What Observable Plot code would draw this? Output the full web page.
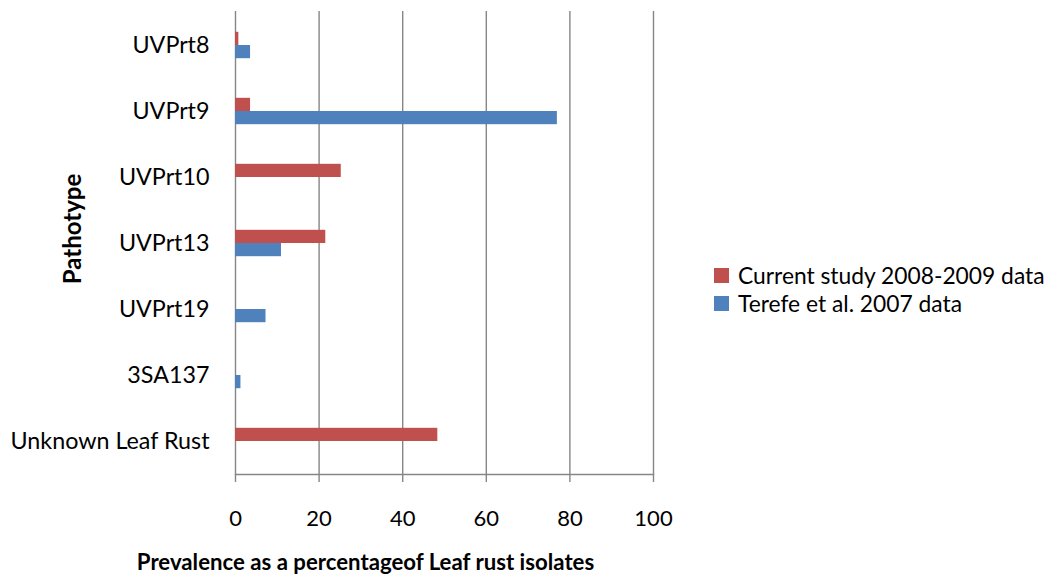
<!DOCTYPE html>
<html>
<head>
<meta charset="utf-8">
<script src="https://cdn.jsdelivr.net/npm/d3@7"></script>
<script src="https://cdn.jsdelivr.net/npm/@observablehq/plot@0.6"></script>
<style>
  html, body { margin: 0; padding: 0; background: #fff; }
  #wrap { position: relative; width: 1052px; height: 581px; font-family: Lato, "Open Sans", sans-serif; }
  #legend { position: absolute; left: 714px; top: 261px; font-size: 22.8px; color: #000; }
  .item { display: flex; align-items: center; height: 28px; white-space: nowrap; }
  .sw { width: 15px; height: 15px; margin-right: 9px; }
</style>
</head>
<body>
<div id="wrap"></div>
<script>
const categories = ["UVPrt8", "UVPrt9", "UVPrt10", "UVPrt13", "UVPrt19", "3SA137", "Unknown Leaf Rust"];
const currentStudy = [0.8, 3.6, 25.3, 21.6, 0, 0, 48.4];
const terefe2007 = [3.6, 77, 0, 11, 7.3, 1.3, 0];
const seriesNames = ["Current study 2008-2009 data", "Terefe et al. 2007 data"];
const seriesColors = ["#C0504D", "#4F81BD"];
const xTicks = [0, 20, 40, 60, 80, 100];

const rowsCurrent = categories.map((c, i) => ({category: c, value: currentStudy[i]}));
const rowsTerefe = categories.map((c, i) => ({category: c, value: terefe2007[i]}));

const grid = "#868686";
const chart = Plot.plot({
  width: 1052,
  height: 581,
  marginLeft: 235,
  marginRight: 399,
  marginTop: 11,
  marginBottom: 107,
  style: {fontFamily: "Lato, 'Open Sans', sans-serif", fontSize: "22px", color: "#000", background: "#fff"},
  x: {domain: [0, 100]},
  y: {domain: categories, padding: 0},
  marks: [
    Plot.gridX(xTicks, {stroke: grid, strokeOpacity: 1, strokeWidth: 1.4}),
    Plot.barX(rowsCurrent, {y: "category", x: "value", fill: seriesColors[0], insetTop: 19.8, insetBottom: 33}),
    Plot.barX(rowsTerefe, {y: "category", x: "value", fill: seriesColors[1], insetTop: 33, insetBottom: 19.8}),
    Plot.frame({anchor: "bottom", stroke: grid, strokeWidth: 1.4}),
    Plot.axisX(xTicks, {anchor: "bottom", tickSize: 8, tickPadding: 28, stroke: grid, strokeWidth: 1.4, strokeOpacity: 1, fill: "#000", label: null, fontSize: 22, tickFormat: d => String(d)}),
    Plot.axisY({anchor: "left", tickSize: 0, tickPadding: 26, label: null, fontSize: 23.3, fill: "#000"}),
    Plot.text(["Pathotype"], {frameAnchor: "left", textAnchor: "middle", dx: -162, dy: -14, rotate: -90, fontWeight: "bold", fontSize: 24, fill: "#000"}),
    Plot.text(["Prevalence as a percentageof Leaf rust isolates"], {frameAnchor: "bottom", textAnchor: "middle", dx: -79, dy: 95, fontWeight: "bold", fontSize: 22.2, fill: "#000"})
  ]
});
const wrap = document.getElementById("wrap");
wrap.appendChild(chart);

const legend = document.createElement("div");
legend.id = "legend";
seriesNames.forEach((name, i) => {
  const item = document.createElement("div");
  item.className = "item";
  const sw = document.createElement("span");
  sw.className = "sw";
  sw.style.background = seriesColors[i];
  const t = document.createElement("span");
  t.textContent = name;
  item.appendChild(sw);
  item.appendChild(t);
  legend.appendChild(item);
});
wrap.appendChild(legend);
</script>
</body>
</html>
